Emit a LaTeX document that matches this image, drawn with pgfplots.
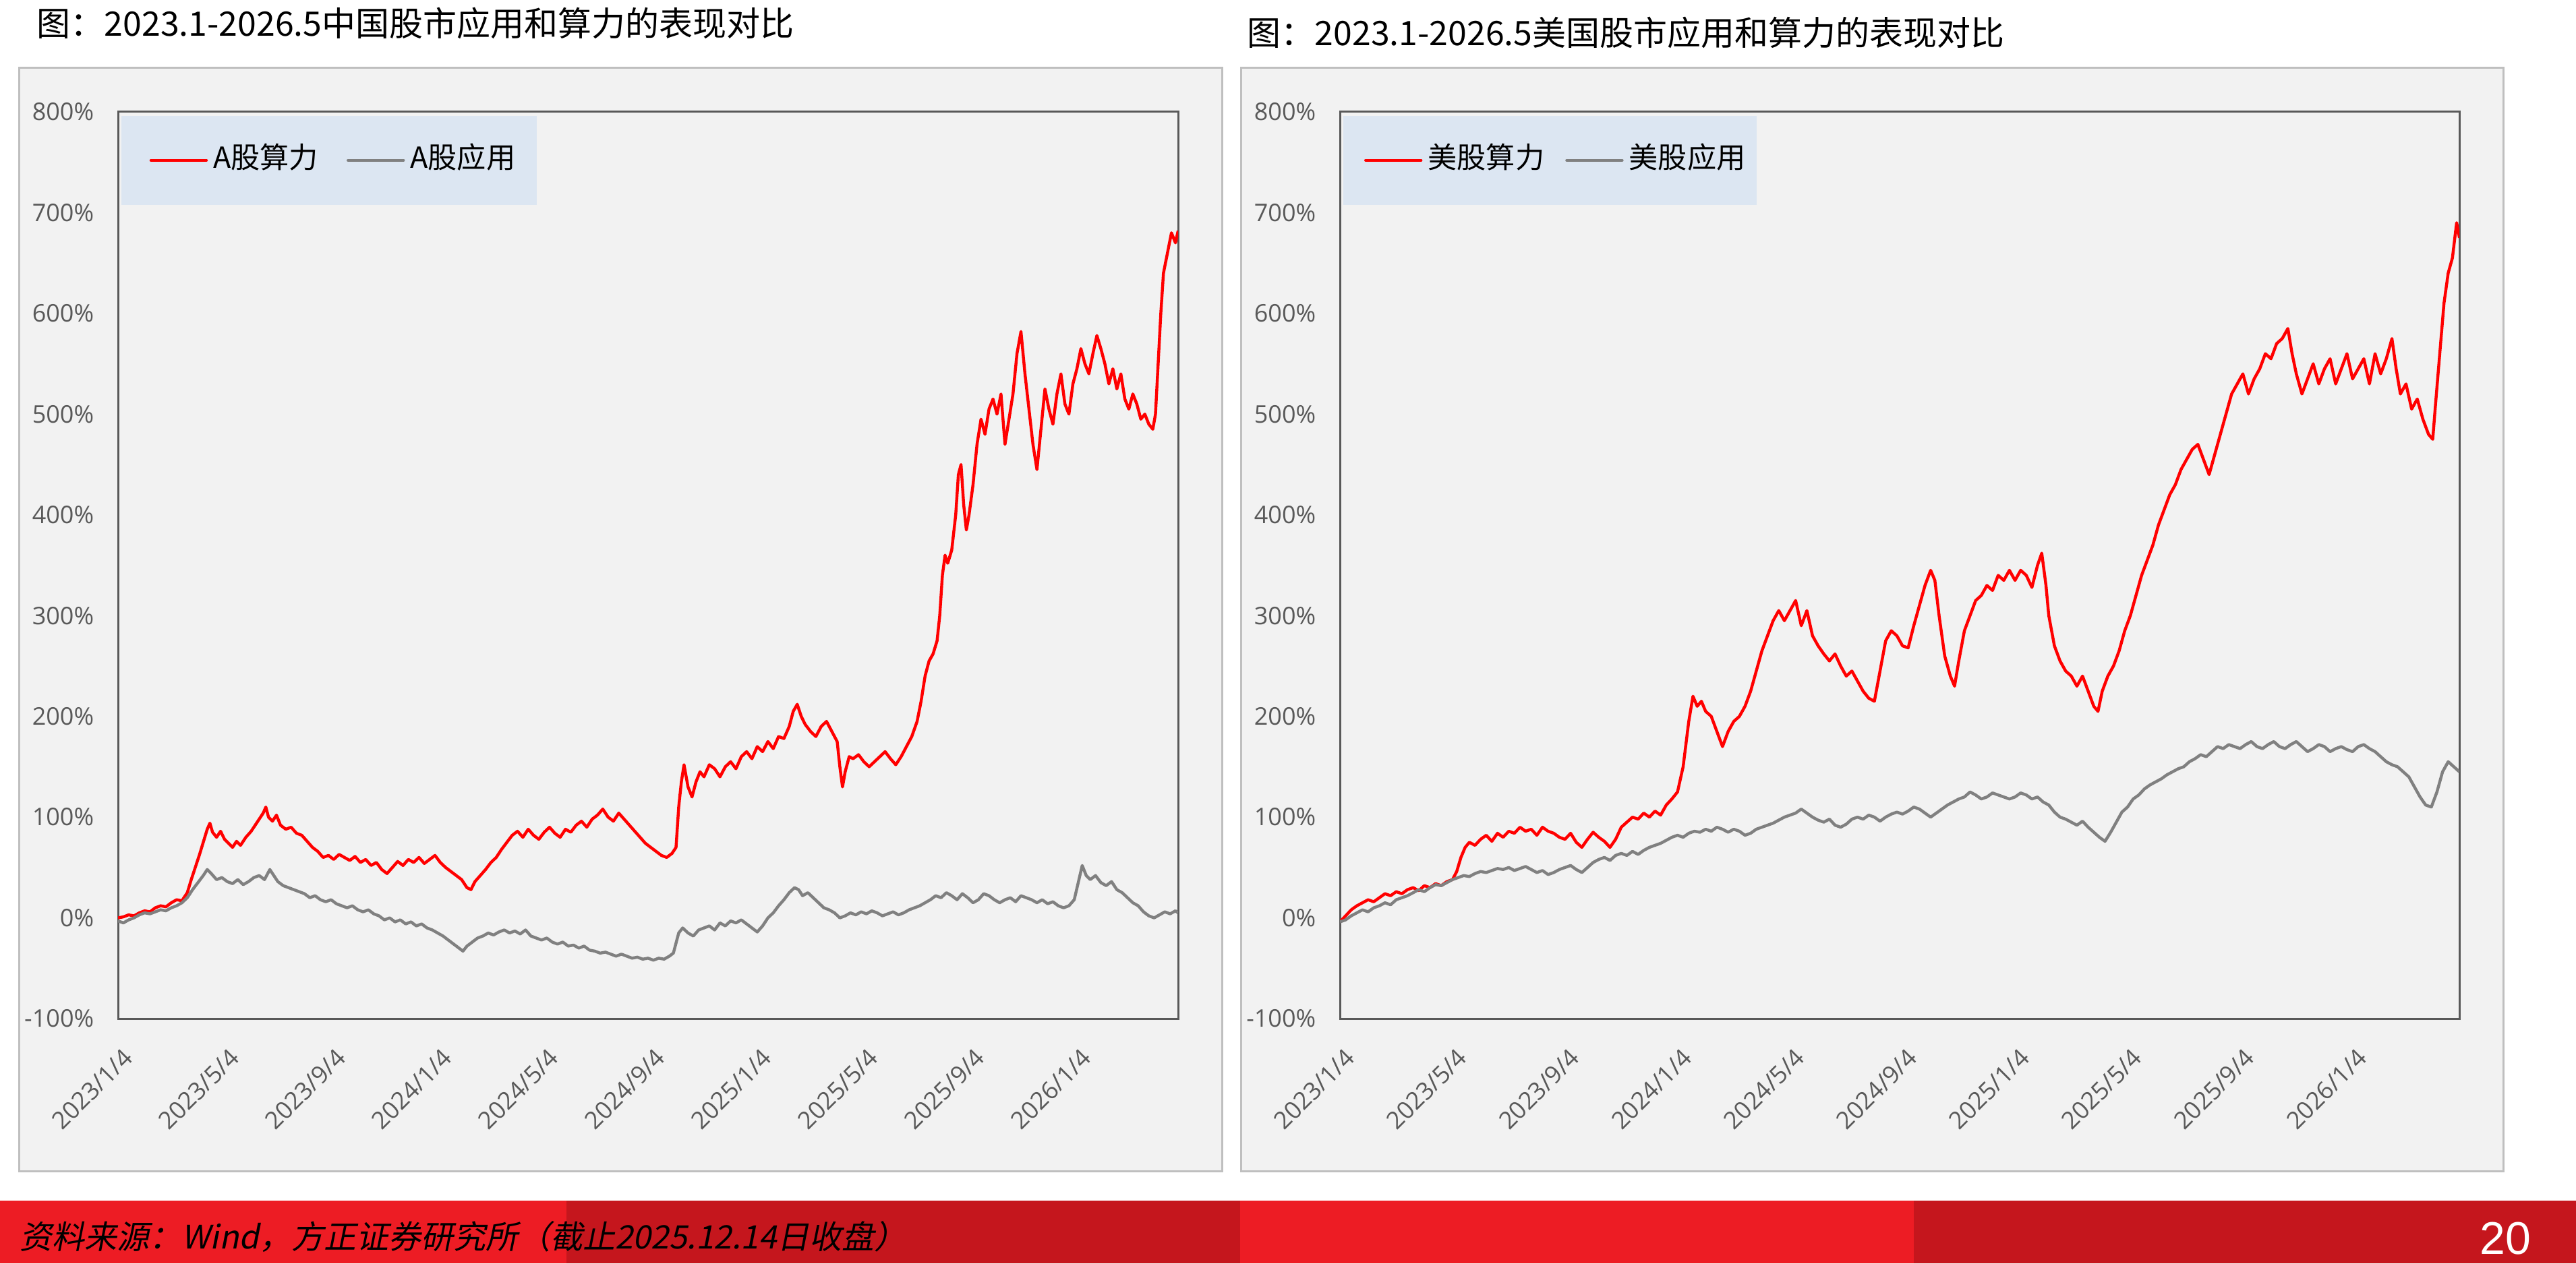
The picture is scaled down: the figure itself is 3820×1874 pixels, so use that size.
\documentclass[border=0pt]{standalone}
\usepackage{pgfplots}
\pgfplotsset{compat=1.18}
\usepackage{fontspec}
\setmainfont{Noto Sans CJK SC}
\newfontfamily\tickfont{Open Sans}
\newfontfamily\cjkit{Noto Sans CJK SC}[FakeSlant=0.2]
\newfontfamily\pagefont{Liberation Sans}

\definecolor{panelbg}{HTML}{F2F2F2}
\definecolor{paneledge}{HTML}{BFBFBF}
\definecolor{axisgray}{HTML}{595959}
\definecolor{ticktext}{HTML}{595959}
\definecolor{legendbg}{HTML}{DCE6F2}
\definecolor{bandA}{HTML}{ED1C24}
\definecolor{bandB}{HTML}{C5161D}
\definecolor{seriesred}{HTML}{FF0000}
\definecolor{seriesgray}{HTML}{808080}

% padding before each legend sample line (set per panel)
\def\legpad{10.5bp}

\pgfplotsset{
  panel/.style={
    scale only axis,
    height=336.25bp,
    xmin=0, xmax=39.8,
    ymin=-100, ymax=800,
    axis background/.style={fill=none},
    axis line style={draw=axisgray, line width=0.75bp},
    major tick length=0pt,
    tick style={draw=none},
    xtick={0,4,...,36},
    xticklabels={2023/1/4,2023/5/4,2023/9/4,2024/1/4,2024/5/4,2024/9/4,2025/1/4,2025/5/4,2025/9/4,2026/1/4},
    ytick={-100,0,...,800},
    yticklabels={-100\%,0\%,100\%,200\%,300\%,400\%,500\%,600\%,700\%,800\%},
    ticklabel style={text=ticktext, font=\tickfont\fontsize{9bp}{10bp}\selectfont},
    yticklabel style={inner sep=0pt, xshift=-8.75bp},
    xticklabel style={inner sep=0pt, xshift=3.75bp, yshift=-12.75bp, rotate=45, anchor=east},
    legend columns=2,
    legend cell align=left,
    legend image code/.code={
      \path (-\legpad,0bp);
      \draw[#1, line width=1.1bp, line cap=round] (0bp,0bp) -- (20.5bp,0bp);
      \path (22.5bp,0bp);
    },
    legend style={
      at={(0.0025,0.9963)}, anchor=north west,
      fill=legendbg, draw=none,
      inner xsep=0pt, inner ysep=11bp,
      column sep=0pt,
      font=\fontsize{10.8bp}{13bp}\selectfont,
      nodes={inner sep=0pt, text height=8.5bp, text depth=2.5bp},
    },
    every axis plot/.append style={line width=1.1bp, line join=round},
  },
}

\begin{document}
\begin{tikzpicture}
\begin{scope}[x=0.25bp, y=0.25bp]
  \fill[white] (0,0) rectangle (3820,1874);
  % footer band
  \fill[bandA] (0,0) rectangle (840,93);
  \fill[bandB] (840,0) rectangle (1839,93);
  \fill[bandA] (1839,0) rectangle (2838,93);
  \fill[bandB] (2838,0) rectangle (3820,93);
  \node[anchor=west, inner sep=0pt, text=black, font=\cjkit\fontsize{12bp}{14bp}\selectfont] at (29,39) {资料来源：Wind，方正证券研究所（截止2025.12.14日收盘）};
  \node[inner sep=0pt, text=white, font=\pagefont\fontsize{17bp}{19bp}\selectfont] at (3715,37) {20};
  % panel frames
  \filldraw[fill=panelbg, draw=paneledge, line width=0.75bp] (28,137) rectangle (1812,1773);
  \filldraw[fill=panelbg, draw=paneledge, line width=0.75bp] (1840,137) rectangle (3712,1773);
  % titles
  \node[anchor=west, inner sep=0pt, font=\fontsize{12.5bp}{14bp}\selectfont] at (54,1840) {图：2023.1-2026.5中国股市应用和算力的表现对比};
  \node[anchor=west, inner sep=0pt, font=\fontsize{12.5bp}{14bp}\selectfont] at (1849,1826) {图：2023.1-2026.5美国股市应用和算力的表现对比};
\end{scope}

% ---------- China: compute vs. applications ----------
\def\legpad{10.5bp}
\begin{axis}[panel, at={(43.75bp,90.75bp)}, anchor=south west, width=393bp]
\addplot[seriesred] coordinates {
(0.00,0) (0.20,1) (0.40,3) (0.60,2) (0.80,5) (1.00,7) (1.20,6) (1.40,10) (1.60,12) (1.80,11)
(2.00,15) (2.20,18) (2.40,17) (2.60,25) (2.75,38) (2.90,50) (3.05,62) (3.20,75) (3.35,88) (3.45,94)
(3.55,85) (3.70,80) (3.85,86) (4.00,78) (4.15,74) (4.30,70) (4.45,76) (4.60,72) (4.80,80) (5.00,86)
(5.15,92) (5.30,98) (5.45,104) (5.55,110) (5.65,100) (5.80,96) (5.95,102) (6.10,92) (6.30,88) (6.50,90)
(6.70,84) (6.90,82) (7.10,76) (7.30,70) (7.50,66) (7.70,60) (7.90,62) (8.10,58) (8.30,63) (8.50,60)
(8.70,57) (8.90,61) (9.10,55) (9.30,58) (9.50,52) (9.70,55) (9.90,48) (10.10,44) (10.30,50) (10.50,56)
(10.70,52) (10.90,58) (11.10,55) (11.30,60) (11.50,54) (11.70,58) (11.90,62) (12.10,55) (12.30,50) (12.50,46)
(12.70,42) (12.90,38) (13.10,30) (13.25,28) (13.40,36) (13.60,42) (13.80,48) (14.00,55) (14.20,60) (14.40,68)
(14.60,75) (14.80,82) (15.00,86) (15.20,80) (15.40,88) (15.60,82) (15.80,78) (16.00,85) (16.20,90) (16.40,84)
(16.60,80) (16.80,88) (17.00,85) (17.20,92) (17.40,96) (17.60,90) (17.80,98) (18.00,102) (18.20,108) (18.40,100)
(18.60,96) (18.80,104) (19.00,98) (19.20,92) (19.40,86) (19.60,80) (19.80,74) (20.00,70) (20.20,66) (20.40,62)
(20.60,60) (20.80,64) (20.95,70) (21.05,110) (21.15,135) (21.25,152) (21.40,130) (21.55,120) (21.70,135) (21.85,145)
(22.00,140) (22.20,152) (22.40,148) (22.60,140) (22.80,150) (23.00,155) (23.20,148) (23.40,160) (23.60,165) (23.80,158)
(24.00,170) (24.20,165) (24.40,175) (24.60,168) (24.80,180) (25.00,178) (25.20,190) (25.35,205) (25.50,212) (25.65,200)
(25.80,192) (26.00,185) (26.20,180) (26.40,190) (26.60,195) (26.80,185) (27.00,175) (27.10,150) (27.20,130) (27.30,145)
(27.45,160) (27.60,158) (27.80,162) (28.00,155) (28.20,150) (28.40,155) (28.60,160) (28.80,165) (29.00,158) (29.20,152)
(29.40,160) (29.60,170) (29.80,180) (30.00,195) (30.15,215) (30.30,240) (30.45,255) (30.60,262) (30.75,275) (30.85,300)
(30.95,340) (31.05,360) (31.15,352) (31.30,365) (31.45,400) (31.55,440) (31.65,450) (31.75,410) (31.85,385) (31.95,400)
(32.10,430) (32.25,470) (32.40,495) (32.55,480) (32.70,505) (32.85,515) (33.00,500) (33.15,520) (33.30,470) (33.45,495)
(33.60,520) (33.75,560) (33.90,582) (34.05,540) (34.20,505) (34.35,470) (34.50,445) (34.65,485) (34.80,525) (34.95,505)
(35.10,490) (35.25,520) (35.40,540) (35.55,510) (35.70,500) (35.85,530) (36.00,545) (36.15,565) (36.30,550) (36.45,540)
(36.60,560) (36.75,578) (36.90,565) (37.05,550) (37.20,530) (37.35,545) (37.50,525) (37.65,540) (37.80,515) (37.95,505)
(38.10,520) (38.25,510) (38.40,495) (38.55,500) (38.70,490) (38.85,485) (38.95,500) (39.05,550) (39.15,600) (39.25,640)
(39.40,660) (39.55,680) (39.70,670) (39.80,682)
};
\addlegendentry{A股算力}
\addplot[seriesgray] coordinates {
(0.00,-3) (0.20,-5) (0.40,-2) (0.60,0) (0.80,3) (1.00,5) (1.20,4) (1.40,6) (1.60,8) (1.80,7)
(2.00,10) (2.20,12) (2.40,15) (2.60,20) (2.80,28) (3.00,35) (3.20,42) (3.35,48) (3.50,44) (3.70,38)
(3.90,40) (4.10,36) (4.30,34) (4.50,38) (4.70,33) (4.90,36) (5.10,40) (5.30,42) (5.50,38) (5.70,48)
(5.85,42) (6.00,36) (6.20,32) (6.40,30) (6.60,28) (6.80,26) (7.00,24) (7.20,20) (7.40,22) (7.60,18)
(7.80,16) (8.00,18) (8.20,14) (8.40,12) (8.60,10) (8.80,12) (9.00,8) (9.20,6) (9.40,8) (9.60,4)
(9.80,2) (10.00,-2) (10.20,0) (10.40,-4) (10.60,-2) (10.80,-6) (11.00,-4) (11.20,-8) (11.40,-6) (11.60,-10)
(11.80,-12) (12.00,-15) (12.20,-18) (12.40,-22) (12.60,-26) (12.80,-30) (12.95,-33) (13.10,-28) (13.30,-24) (13.50,-20)
(13.70,-18) (13.90,-15) (14.10,-17) (14.30,-14) (14.50,-12) (14.70,-15) (14.90,-13) (15.10,-16) (15.30,-12) (15.50,-18)
(15.70,-20) (15.90,-22) (16.10,-20) (16.30,-24) (16.50,-26) (16.70,-24) (16.90,-28) (17.10,-27) (17.30,-30) (17.50,-28)
(17.70,-32) (17.90,-33) (18.10,-35) (18.30,-34) (18.50,-36) (18.70,-38) (18.90,-36) (19.10,-38) (19.30,-40) (19.50,-39)
(19.70,-41) (19.90,-40) (20.10,-42) (20.30,-40) (20.50,-41) (20.70,-38) (20.85,-35) (20.95,-25) (21.05,-15) (21.20,-10)
(21.40,-15) (21.60,-18) (21.80,-12) (22.00,-10) (22.20,-8) (22.40,-12) (22.60,-5) (22.80,-8) (23.00,-3) (23.20,-5)
(23.40,-2) (23.60,-6) (23.80,-10) (24.00,-14) (24.20,-8) (24.40,0) (24.60,5) (24.80,12) (25.00,18) (25.20,25)
(25.40,30) (25.55,28) (25.70,22) (25.90,25) (26.10,20) (26.30,15) (26.50,10) (26.70,8) (26.90,5) (27.10,0)
(27.30,2) (27.50,5) (27.70,3) (27.90,6) (28.10,4) (28.30,7) (28.50,5) (28.70,2) (28.90,4) (29.10,6)
(29.30,3) (29.50,5) (29.70,8) (29.90,10) (30.10,12) (30.30,15) (30.50,18) (30.70,22) (30.90,20) (31.10,25)
(31.30,22) (31.50,18) (31.70,24) (31.90,20) (32.10,15) (32.30,18) (32.50,24) (32.70,22) (32.90,18) (33.10,15)
(33.30,18) (33.50,20) (33.70,16) (33.90,22) (34.10,20) (34.30,18) (34.50,15) (34.70,18) (34.90,14) (35.10,16)
(35.30,12) (35.50,10) (35.70,12) (35.90,18) (36.05,35) (36.20,52) (36.35,42) (36.50,38) (36.70,42) (36.90,35)
(37.10,32) (37.30,36) (37.50,28) (37.70,25) (37.90,20) (38.10,15) (38.30,12) (38.50,6) (38.70,2) (38.90,0)
(39.10,3) (39.30,6) (39.50,4) (39.70,7) (39.80,5)
};
\addlegendentry{A股应用\hspace*{8bp}}
\end{axis}

% ---------- United States: compute vs. applications ----------
\def\legpad{7.75bp}
\begin{axis}[panel, at={(496.75bp,90.75bp)}, anchor=south west, width=415bp]
\addplot[seriesred] coordinates {
(0.00,-4) (0.20,2) (0.40,8) (0.60,12) (0.80,15) (1.00,18) (1.20,16) (1.40,20) (1.60,24) (1.80,22)
(2.00,26) (2.20,24) (2.40,28) (2.60,30) (2.80,27) (3.00,32) (3.20,30) (3.40,34) (3.60,32) (3.80,36)
(4.00,38) (4.15,46) (4.30,60) (4.45,70) (4.60,75) (4.80,72) (5.00,78) (5.20,82) (5.40,76) (5.60,84)
(5.80,80) (6.00,86) (6.20,84) (6.40,90) (6.60,86) (6.80,88) (7.00,82) (7.20,90) (7.40,86) (7.60,84)
(7.80,80) (8.00,78) (8.20,84) (8.40,75) (8.60,70) (8.80,78) (9.00,85) (9.20,80) (9.40,76) (9.60,70)
(9.80,78) (10.00,90) (10.20,95) (10.40,100) (10.60,98) (10.80,104) (11.00,100) (11.20,106) (11.40,102) (11.60,112)
(11.80,118) (12.00,125) (12.20,150) (12.40,195) (12.55,220) (12.70,210) (12.85,215) (13.00,205) (13.20,200) (13.40,185)
(13.60,170) (13.80,185) (14.00,195) (14.20,200) (14.40,210) (14.60,225) (14.80,245) (15.00,265) (15.20,280) (15.40,295)
(15.60,305) (15.80,295) (16.00,305) (16.20,315) (16.40,290) (16.60,305) (16.80,280) (17.00,270) (17.20,262) (17.40,255)
(17.60,262) (17.80,250) (18.00,240) (18.20,245) (18.40,235) (18.60,225) (18.80,218) (19.00,215) (19.20,245) (19.40,275)
(19.60,285) (19.80,280) (20.00,270) (20.20,268) (20.40,290) (20.60,310) (20.80,330) (21.00,345) (21.15,335) (21.30,300)
(21.50,260) (21.70,240) (21.85,230) (22.00,255) (22.20,285) (22.40,300) (22.60,315) (22.80,320) (23.00,330) (23.20,325)
(23.40,340) (23.60,335) (23.80,345) (24.00,335) (24.20,345) (24.40,340) (24.60,328) (24.80,350) (24.95,362) (25.10,330)
(25.20,300) (25.40,270) (25.60,255) (25.80,245) (26.00,240) (26.20,230) (26.40,240) (26.60,225) (26.80,210) (26.95,205)
(27.10,225) (27.30,240) (27.50,250) (27.70,265) (27.90,285) (28.10,300) (28.30,320) (28.50,340) (28.70,355) (28.90,370)
(29.10,390) (29.30,405) (29.50,420) (29.70,430) (29.90,445) (30.10,455) (30.30,465) (30.50,470) (30.70,455) (30.90,440)
(31.10,460) (31.30,480) (31.50,500) (31.70,520) (31.90,530) (32.10,540) (32.30,520) (32.50,535) (32.70,545) (32.90,560)
(33.10,555) (33.30,570) (33.50,575) (33.70,585) (33.85,560) (34.00,540) (34.20,520) (34.40,535) (34.60,550) (34.80,530)
(35.00,545) (35.20,555) (35.40,530) (35.60,545) (35.80,560) (36.00,535) (36.20,545) (36.40,555) (36.60,530) (36.80,560)
(37.00,540) (37.20,555) (37.40,575) (37.55,545) (37.70,520) (37.90,530) (38.10,505) (38.30,515) (38.50,495) (38.70,480)
(38.85,475) (38.95,510) (39.10,560) (39.25,610) (39.40,640) (39.55,655) (39.70,690) (39.80,675)
};
\addlegendentry{美股算力}
\addplot[seriesgray] coordinates {
(0.00,-4) (0.20,-2) (0.40,2) (0.60,5) (0.80,8) (1.00,6) (1.20,10) (1.40,12) (1.60,15) (1.80,13)
(2.00,18) (2.20,20) (2.40,22) (2.60,25) (2.80,28) (3.00,26) (3.20,30) (3.40,33) (3.60,32) (3.80,35)
(4.00,38) (4.20,40) (4.40,42) (4.60,41) (4.80,44) (5.00,46) (5.20,45) (5.40,47) (5.60,49) (5.80,48)
(6.00,50) (6.20,47) (6.40,49) (6.60,51) (6.80,48) (7.00,45) (7.20,47) (7.40,43) (7.60,45) (7.80,48)
(8.00,50) (8.20,52) (8.40,48) (8.60,45) (8.80,50) (9.00,55) (9.20,58) (9.40,60) (9.60,57) (9.80,62)
(10.00,64) (10.20,62) (10.40,66) (10.60,63) (10.80,67) (11.00,70) (11.20,72) (11.40,74) (11.60,77) (11.80,80)
(12.00,82) (12.20,80) (12.40,84) (12.60,86) (12.80,85) (13.00,88) (13.20,86) (13.40,90) (13.60,88) (13.80,85)
(14.00,88) (14.20,86) (14.40,82) (14.60,84) (14.80,88) (15.00,90) (15.20,92) (15.40,94) (15.60,97) (15.80,100)
(16.00,102) (16.20,104) (16.40,108) (16.60,104) (16.80,100) (17.00,97) (17.20,95) (17.40,98) (17.60,92) (17.80,90)
(18.00,93) (18.20,98) (18.40,100) (18.60,98) (18.80,102) (19.00,100) (19.20,96) (19.40,100) (19.60,103) (19.80,105)
(20.00,103) (20.20,106) (20.40,110) (20.60,108) (20.80,104) (21.00,100) (21.20,104) (21.40,108) (21.60,112) (21.80,115)
(22.00,118) (22.20,120) (22.40,125) (22.60,122) (22.80,118) (23.00,120) (23.20,124) (23.40,122) (23.60,120) (23.80,118)
(24.00,120) (24.20,124) (24.40,122) (24.60,118) (24.80,120) (25.00,115) (25.20,112) (25.40,105) (25.60,100) (25.80,98)
(26.00,95) (26.20,92) (26.40,96) (26.60,90) (26.80,85) (27.00,80) (27.20,76) (27.40,85) (27.60,95) (27.80,105)
(28.00,110) (28.20,118) (28.40,122) (28.60,128) (28.80,132) (29.00,135) (29.20,138) (29.40,142) (29.60,145) (29.80,148)
(30.00,150) (30.20,155) (30.40,158) (30.60,162) (30.80,160) (31.00,165) (31.20,170) (31.40,168) (31.60,172) (31.80,170)
(32.00,168) (32.20,172) (32.40,175) (32.60,170) (32.80,168) (33.00,172) (33.20,175) (33.40,170) (33.60,168) (33.80,172)
(34.00,175) (34.20,170) (34.40,165) (34.60,168) (34.80,172) (35.00,170) (35.20,165) (35.40,168) (35.60,170) (35.80,167)
(36.00,165) (36.20,170) (36.40,172) (36.60,168) (36.80,165) (37.00,160) (37.20,155) (37.40,152) (37.60,150) (37.80,145)
(38.00,140) (38.20,130) (38.40,120) (38.60,112) (38.80,110) (39.00,125) (39.20,145) (39.40,155) (39.60,150) (39.80,145)
};
\addlegendentry{美股应用\hspace*{4.25bp}}
\end{axis}
\end{tikzpicture}
\end{document}
